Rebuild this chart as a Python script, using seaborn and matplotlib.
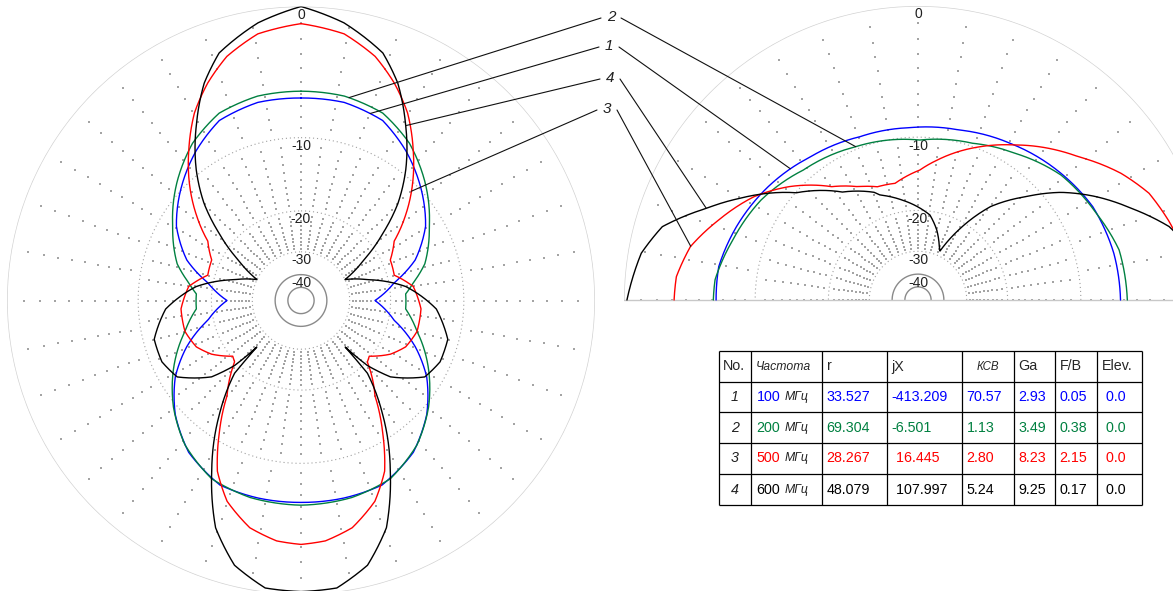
import numpy as np
import pandas as pd
import matplotlib
matplotlib.use("Agg")
import matplotlib.pyplot as plt
import seaborn as sns

sns.set_style("white")
plt.rcParams["font.family"] = ["Liberation Sans", "DejaVu Sans"]

# ---------------------------------------------------------------- data
BANDS = ["100", "200", "500", "600"]
BAND_NO = ["1", "2", "3", "4"]
BAND_COLORS = ["#0000ff", "#008040", "#ff0000", "#000000"]

# Horizontal-plane pattern, dB relative to the strongest lobe.
# One half only (azimuth from boresight, degrees); the pattern is symmetric.
AZ_100_DEG = [0, 12.3, 24.4, 35, 47, 59.2, 70.5, 79.2, 90, 102, 112, 121.3, 132.2, 143.5, 156.3, 167.8, 180]
AZ_100_DB = [-6.32, -6.3, -6.73, -8.05, -9.87, -11.95, -14.98, -19.05, -23.17, -18.98, -14.69, -11.71,
             -9.3, -7.5, -6.4, -6.35, -6.37]

AZ_200_DEG = [0, 12, 23.6, 34.6, 46, 59.9, 73.5, 81, 86.4, 94.6, 105, 118.4, 129.9, 141.2, 153.4, 165.5, 180]
AZ_200_DB = [-5.76, -5.79, -6.16, -7.31, -9.08, -11.58, -13.9, -16.03, -17.38, -17.36, -15.1, -11.95,
             -9.65, -7.83, -6.58, -6.24, -6.14]

AZ_500_DEG = [0, 9.2, 16.9, 23.2, 29.6, 36.9, 45.5, 50.7, 57.5, 65.6, 74.8, 82.9, 94, 105, 113.9, 121,
              129.2, 132.8, 142.2, 148.4, 153.9, 159.8, 167.3, 174.2, 180]
AZ_500_DB = [-1.02, -1.44, -2.41, -3.68, -5.25, -7.67, -10.86, -13.12, -16.51, -18.5, -18.75, -16.11,
             -15.09, -15.12, -15.92, -17.48, -20.28, -19.85, -15.03, -10.72, -7.39, -5.39, -3.95, -3.33, -3.17]

AZ_600_DEG = [0, 8.8, 18.3, 24, 30.7, 38.7, 45, 50.7, 57.2, 64.6, 72.6, 82.4, 93.6, 104.8, 113.8, 121.7,
              130.5, 134.4, 136.5, 137.6, 144.4, 152.4, 159.4, 165.9, 172.9, 180]
AZ_600_DB = [0, -0.77, -2.04, -3.59, -6.13, -9.52, -12.91, -17.28, -23.06, -30, -24.18, -17.26, -13.08,
             -11.18, -11.16, -11.9, -15.47, -19.39, -25.5, -18.43, -12.51, -7.16, -3.25, -1.26, -0.25, -0.17]

# Vertical-plane pattern, elevation measured from the forward horizon (0) over the zenith (90)
# to the rear horizon (180).
EL_100_DEG = [0, 13.4, 28.1, 41.6, 59.1, 76.6, 92.9, 109.6, 126.9, 142.9, 158, 170.5, 180]
EL_100_DB = [-6.32, -6.42, -6.69, -7.31, -8.13, -8.8, -9.03, -8.95, -8.4, -7.59, -6.89, -6.36, -6.37]

EL_200_DEG = [0, 14, 25.9, 41.2, 56.5, 70.8, 89.4, 112.1, 131.4, 147.5, 162, 174.3, 180]
EL_200_DB = [-5.76, -5.93, -6.68, -7.41, -8.7, -9.68, -10.3, -9.73, -8.95, -7.75, -6.99, -6.2, -6.14]

EL_500_DEG = [0, 8, 17.3, 24.8, 32, 41.7, 58, 68, 82.1, 89.2, 101.1, 109.7, 118, 127.3, 138.6, 147.8,
              158.1, 166.8, 174.5, 180]
EL_500_DB = [-1.02, -1.3, -1.88, -2.45, -3.5, -5.29, -8.05, -9.75, -12.38, -13.79, -15.28, -15.09, -14.0,
             -12.25, -9.13, -7.06, -5.33, -3.89, -3.25, -3.17]

EL_600_DEG = [0, 8, 16.3, 23.2, 30.1, 37, 43.8, 52.2, 59.9, 65.8, 68.2, 75, 82, 99, 109.9, 112.2, 125,
              138.6, 150.3, 156.6, 164, 170.4, 180]
EL_600_DB = [0, -0.6, -1.98, -3.99, -6.03, -8.42, -11.47, -15.39, -21.69, -28.42, -27.34, -23.51, -20.72,
             -17.98, -16.33, -15.65, -13.56, -10.07, -6.1, -4.12, -1.7, -0.79, -0.17]

AZ_DEG = [AZ_100_DEG, AZ_200_DEG, AZ_500_DEG, AZ_600_DEG]
AZ_DB = [AZ_100_DB, AZ_200_DB, AZ_500_DB, AZ_600_DB]
EL_DEG = [EL_100_DEG, EL_200_DEG, EL_500_DEG, EL_600_DEG]
EL_DB = [EL_100_DB, EL_200_DB, EL_500_DB, EL_600_DB]

# Ring labels (dB)
RING_DB = [0, -10, -20, -30, -40]

# Feed-point table
TABLE_HEADER = ["No.", "Частота", "r", "jX", "КСВ", "Ga", "F/B", "Elev."]
R_OHM = [33.527, 69.304, 28.267, 48.079]
JX_OHM = [-413.209, -6.501, 16.445, 107.997]
SWR = [70.57, 1.13, 2.80, 5.24]
GA_DBI = [2.93, 3.49, 8.23, 9.25]
FB_DB = [0.05, 0.38, 2.15, 0.17]
ELEV_DEG = [0.0, 0.0, 0.0, 0.0]

# Callout order (top to bottom) and the azimuth / elevation where each leader meets its curve
CALLOUT_ORDER = ["2", "1", "4", "3"]
CALLOUT_AZ = {"2": 13.3, "1": 20.3, "4": 30.9, "3": 45.3}
CALLOUT_EL = {"2": 112.1, "1": 134.2, "4": 156.6, "3": 166.7}

# ---------------------------------------------------------------- layout
W, H = 1173, 591
RAD = 294  # outer ring radius, px


def rho(db):
    """Logarithmic (0.89 per 2 dB) radial scale, 0 dB on the outer ring."""
    g = 0.89 ** (-np.asarray(db, dtype=float) / 2.0)
    return (297.0 * g - 3.0) / 294.0


fig = plt.figure(figsize=(W / 100, H / 100), dpi=100)
fig.patch.set_facecolor("white")


def polar_axes(cx, cy):
    ax = fig.add_axes([(cx - RAD) / W, (H - cy - RAD) / H, 2 * RAD / W, 2 * RAD / H], projection="polar")
    ax.set_ylim(0, 1)
    ax.axis("off")
    return ax


ax_az = polar_axes(301, 300.5)
ax_az.set_theta_zero_location("N")
ax_az.set_theta_direction(-1)
ax_el = polar_axes(918, 300)

GRID_DOT = "#a4a4a4"


def draw_grid(ax, t0, t1, full):
    th = np.radians(np.linspace(t0, t1, 721))
    ax.plot(th, np.full_like(th, rho(0)), color="#d2d2d2", lw=1.0, zorder=1)
    for db in (-10, -20, -30):
        ax.plot(th, np.full_like(th, rho(db)), color="#a0a0a0", lw=0.8, ls=(0, (1, 2.6)), zorder=1)
    for db in (-40, -50):
        ax.plot(th, np.full_like(th, rho(db)), color="#8a8a8a", lw=1.0, zorder=1)
    pts_t, pts_r = [], []
    for step, dbs in ((10.0, range(-1, -10, -1)), (7.5, range(-11, -30, -1))):
        angles = np.arange(t0, t1 if full else t1 + 0.01, step)
        for db in dbs:
            if db % 10 == 0:
                continue
            pts_t.extend(np.radians(angles))
            pts_r.extend([float(rho(db))] * len(angles))
    ax.scatter(pts_t, pts_r, s=0.6, marker="s", color=GRID_DOT, linewidths=0, zorder=1)


draw_grid(ax_az, 0, 360, True)
draw_grid(ax_el, 0, 180, False)
for t in (0, np.pi):
    ax_el.plot([t, t], [0, 1], color="#c8c8c8", lw=1.0, zorder=1)


def ring_labels(ax, theta):
    for db in RING_DB:
        ax.annotate(f"{db}", xy=(theta, float(rho(db))), xytext=(0, -8.5), textcoords="offset pixels",
                    ha="center", va="center", fontsize=10, color="#202020", zorder=2)


ring_labels(ax_az, 0.0)
ring_labels(ax_el, np.pi / 2)

# ---------------------------------------------------------------- pattern curves
palette = dict(zip(BANDS, BAND_COLORS))

az_frames = []
for band, deg, db in zip(BANDS, AZ_DEG, AZ_DB):
    deg = np.asarray(deg, dtype=float)
    db = np.asarray(db, dtype=float)
    full_deg = np.concatenate([deg, 360.0 - deg[::-1]])
    full_db = np.concatenate([db, db[::-1]])
    az_frames.append(pd.DataFrame({"theta": np.radians(full_deg), "rho": rho(full_db), "band": band}))
az_df = pd.concat(az_frames, ignore_index=True)

el_frames = []
for band, deg, db in zip(BANDS, EL_DEG, EL_DB):
    el_frames.append(pd.DataFrame({"theta": np.radians(deg), "rho": rho(db), "band": band}))
el_df = pd.concat(el_frames, ignore_index=True)

for ax, df in ((ax_az, az_df), (ax_el, el_df)):
    n_before = len(ax.lines)
    sns.lineplot(data=df, x="theta", y="rho", hue="band", hue_order=BANDS, palette=palette,
                 sort=False, estimator=None, legend=False, lw=1.0, ax=ax, zorder=3)
    # let the polar transform follow each segment in (angle, radius) instead of a chord
    for line in ax.lines[n_before:]:
        line.get_path()._interpolation_steps = 24
    ax.set_xlabel("")
    ax.set_ylabel("")
    ax.set_ylim(0, 1)

# ---------------------------------------------------------------- callouts
callout_xy = {"2": (611, 17), "1": (609, 46), "4": (610, 78), "3": (607, 109)}
band_by_no = dict(zip(BAND_NO, range(4)))
for no in CALLOUT_ORDER:
    i = band_by_no[no]
    lx, ly = callout_xy[no]
    fig.text(lx / W, 1 - ly / H, no, ha="center", va="center", fontsize=11, style="italic", color="#202020")
    a = CALLOUT_AZ[no]
    e = CALLOUT_EL[no]
    az_pt = (np.radians(a), float(rho(np.interp(a, AZ_DEG[i], AZ_DB[i]))))
    el_pt = (np.radians(e), float(rho(np.interp(e, EL_DEG[i], EL_DB[i]))))
    for ax, pt, sx in ((ax_az, az_pt, lx - 10), (ax_el, el_pt, lx + 10)):
        ax.annotate("", xy=pt, xycoords="data", xytext=(sx, H - ly - 1), textcoords="figure pixels",
                    arrowprops=dict(arrowstyle="-", color="#101010", lw=0.8, shrinkA=0, shrinkB=0),
                    annotation_clip=False, zorder=4)

# ---------------------------------------------------------------- table
ax_t = fig.add_axes([0, 0, 1, 1])
ax_t.set_xlim(0, W)
ax_t.set_ylim(H, 0)
ax_t.axis("off")

col_edges = [719, 751, 822, 887, 962, 1014, 1055, 1097, 1142]
row_edges = [351, 382, 412, 443, 474, 505]
ax_t.hlines(row_edges, col_edges[0], col_edges[-1], color="black", lw=0.9)
ax_t.vlines(col_edges, row_edges[0], row_edges[-1], color="black", lw=0.9)

FS = 10.3
pad = 4.5
hy = (row_edges[0] + row_edges[1]) / 2
header_style = {"Частота": dict(style="italic", fontsize=8.8), "КСВ": dict(style="italic", fontsize=8.3)}
for j, name in enumerate(TABLE_HEADER):
    kw = dict(fontsize=FS)
    kw.update(header_style.get(name, {}))
    if name == "КСВ":
        ax_t.text((col_edges[j] + col_edges[j + 1]) / 2, hy, name, ha="center", va="center", **kw)
    else:
        ax_t.text(col_edges[j] + pad - (1 if j == 0 else 0), hy, name, ha="left", va="center", **kw)

for i in range(4):
    y = (row_edges[i + 1] + row_edges[i + 2]) / 2
    c = BAND_COLORS[i]
    ax_t.text((col_edges[0] + col_edges[1]) / 2, y, BAND_NO[i], ha="center", va="center",
              fontsize=FS, style="italic", color="#202020")
    ax_t.text(col_edges[1] + pad + 1, y, BANDS[i], ha="left", va="center", fontsize=FS, color=c)
    ax_t.text(col_edges[1] + 34, y, "МГц", ha="left", va="center", fontsize=8.8, style="italic",
              color="#202020")
    cells = [f"{R_OHM[i]:.3f}", f"{JX_OHM[i]: .3f}", f"{SWR[i]:.2f}", f"{GA_DBI[i]:.2f}",
             f"{FB_DB[i]:.2f}", f" {ELEV_DEG[i]:.1f}"]
    for k, txt in enumerate(cells):
        ax_t.text(col_edges[k + 2] + pad, y, txt, ha="left", va="center", fontsize=FS, color=c)

fig.savefig("out.png", dpi=100, facecolor="white")
